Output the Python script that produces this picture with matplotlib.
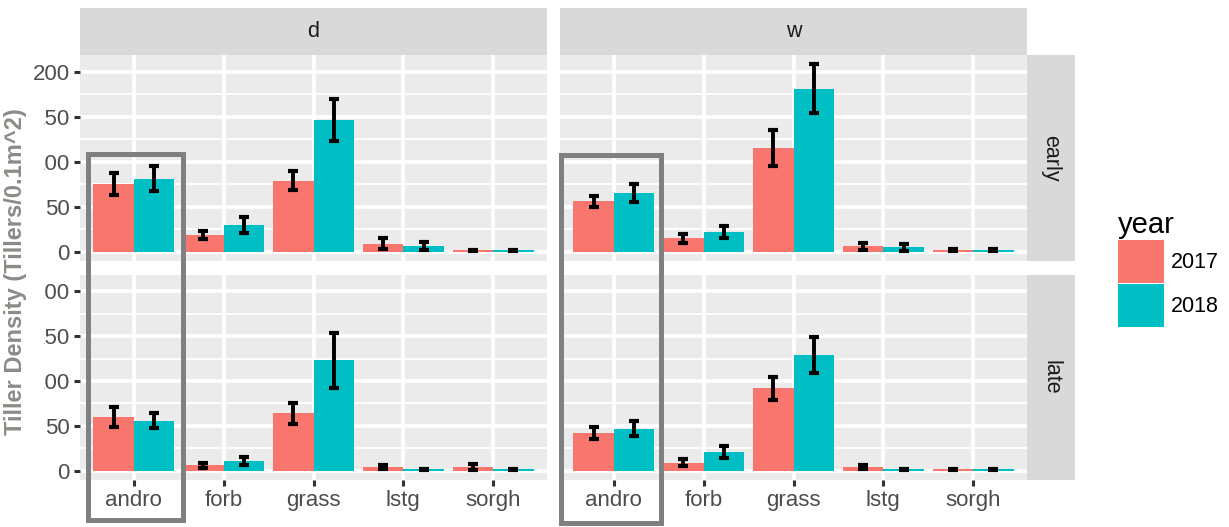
import matplotlib
matplotlib.use("Agg")
import matplotlib.pyplot as plt
from matplotlib.patches import Rectangle, Patch
import numpy as np

plt.rcParams['font.family'] = ['Liberation Sans', 'DejaVu Sans']

# ---------------- data ----------------
categories = ['andro', 'forb', 'grass', 'lstg', 'sorgh']
years = ['2017', '2018']
sites = ['d', 'w']
seasons = ['early', 'late']

d_early_2017 = [75, 18, 79, 9, 1.5]
d_early_2017_se = [12, 4.5, 11, 6, 0.8]
d_early_2018 = [81, 30, 146, 6, 1.5]
d_early_2018_se = [14, 9, 23, 4.5, 0.6]

w_early_2017 = [56, 15, 115, 6, 1.5]
w_early_2017_se = [6, 5, 20, 4, 0.9]
w_early_2018 = [65, 22, 181, 5, 1.5]
w_early_2018_se = [10, 7, 27, 4, 0.9]

d_late_2017 = [60, 6, 64, 4, 4]
d_late_2017_se = [11, 2.5, 12, 2.5, 3]
d_late_2018 = [56, 11, 123, 1.5, 1.5]
d_late_2018_se = [8, 4.5, 31, 0.7, 0.7]

w_late_2017 = [42, 9, 92, 4, 1.5]
w_late_2017_se = [7, 3.5, 13, 2, 0.6]
w_late_2018 = [47, 21, 129, 1.5, 1.5]
w_late_2018_se = [8, 7, 20, 0.6, 0.6]

y_ticks = [0, 50, 100, 150, 200]
y_label = 'Tiller Density (Tillers/0.1m^2)'

panels = {
    ('d', 'early'): [(d_early_2017, d_early_2017_se), (d_early_2018, d_early_2018_se)],
    ('w', 'early'): [(w_early_2017, w_early_2017_se), (w_early_2018, w_early_2018_se)],
    ('d', 'late'): [(d_late_2017, d_late_2017_se), (d_late_2018, d_late_2018_se)],
    ('w', 'late'): [(w_late_2017, w_late_2017_se), (w_late_2018, w_late_2018_se)],
}

colors = ['#F8766D', '#00BFC4']

# ---------------- layout ----------------
W, H = 1229, 527
fig = plt.figure(figsize=(W / 100, H / 100), dpi=100)

def fbox(x0, y0, x1, y1):
    return [x0 / W, 1 - y1 / H, (x1 - x0) / W, (y1 - y0) / H]

col_x = {'d': (80, 547), 'w': (560, 1027)}
row_y = {'early': (55, 261), 'late': (275, 480)}
strip_top = (8, 55)
strip_right = (1027, 1075)

ymax = max(max(np.array(v) + np.array(e)) for pair in panels.values() for v, e in pair)
ylo, yhi = -0.05 * ymax, ymax * 1.05

n = len(categories)
xpos = np.arange(1, n + 1)
bw = 0.45

tick_color = '#4D4D4D'
fs_tick = 16

for (site, season), pair in panels.items():
    x0, x1 = col_x[site]
    y0, y1 = row_y[season]
    ax = fig.add_axes(fbox(x0, y0, x1, y1))
    ax.set_facecolor('#EBEBEB')
    for s in ax.spines.values():
        s.set_visible(False)
    ax.set_xlim(0.4, n + 0.6)
    ax.set_ylim(ylo, yhi)
    ax.set_yticks(y_ticks)
    ax.set_yticks([25, 75, 125, 175], minor=True)
    ax.set_xticks(xpos)
    ax.grid(which='major', color='white', lw=2.6)
    ax.grid(which='minor', axis='y', color='white', lw=1.3)
    ax.set_axisbelow(True)
    ax.tick_params(axis='both', which='major', length=4.5, width=2.2,
                   color='#333333', labelcolor=tick_color, labelsize=fs_tick, pad=3)
    ax.tick_params(axis='both', which='minor', length=0)
    if site == 'd':
        ax.set_yticklabels([str(t) for t in y_ticks])
    else:
        ax.tick_params(axis='y', which='major', length=0, labelleft=False)
    if season == 'late':
        ax.set_xticklabels(categories)
    else:
        ax.tick_params(axis='x', which='major', length=0, labelbottom=False)

    for k, (vals, errs) in enumerate(pair):
        xs = xpos + (k - 0.5) * bw
        ax.bar(xs, vals, width=bw, color=colors[k], edgecolor='none', zorder=2)
        ax.errorbar(xs, vals, yerr=errs, fmt='none', ecolor='black',
                    elinewidth=2.8, capsize=3.8, capthick=3.0, zorder=3)

# top strips
for site in sites:
    x0, x1 = col_x[site]
    sax = fig.add_axes(fbox(x0, strip_top[0], x1, strip_top[1]))
    sax.set_facecolor('#D9D9D9')
    sax.set_xticks([]); sax.set_yticks([])
    for s in sax.spines.values():
        s.set_visible(False)
    sax.text(0.5, 0.5, site, ha='center', va='center', fontsize=15.5,
             color='#1A1A1A', transform=sax.transAxes)

# right strips
for season in seasons:
    y0, y1 = row_y[season]
    sax = fig.add_axes(fbox(strip_right[0], y0, strip_right[1], y1))
    sax.set_facecolor('#D9D9D9')
    sax.set_xticks([]); sax.set_yticks([])
    for s in sax.spines.values():
        s.set_visible(False)
    sax.text(0.5, 0.5, season, ha='center', va='center', fontsize=15.5,
             color='#1A1A1A', rotation=-90, transform=sax.transAxes)

# white box behind the y label (covers part of the tick labels, as in the reference)
fig.add_artist(Rectangle((0, 1 - 440 / H), 43.6 / W, (440 - 95) / H,
                         transform=fig.transFigure, fc='white', ec='none', zorder=5))
fig.text(16 / W, 1 - 272 / H, y_label, rotation=90, ha='center', va='center',
         fontsize=17, fontweight='bold', color='#8E8A86', zorder=6)

# highlight boxes around 'andro'
for (bx0, by0, bx1, by1) in [(88, 154, 183, 520), (561, 155, 661, 523)]:
    fig.add_artist(Rectangle((bx0 / W, 1 - by1 / H), (bx1 - bx0) / W, (by1 - by0) / H,
                             transform=fig.transFigure, fill=False,
                             ec='#808080', lw=3.6, zorder=7))

# legend
handles = [Patch(facecolor=c, edgecolor='none') for c in colors]
leg = fig.legend(handles, years, title='year', loc='upper left',
                 bbox_to_anchor=(1118 / W, 1 - 211 / H), frameon=False,
                 fontsize=15.5, title_fontsize=21, handlelength=2.15,
                 handleheight=2.7, handletextpad=0.3, labelspacing=0.05,
                 borderpad=0, borderaxespad=0, alignment='left')

fig.savefig('out.png', dpi=100)
